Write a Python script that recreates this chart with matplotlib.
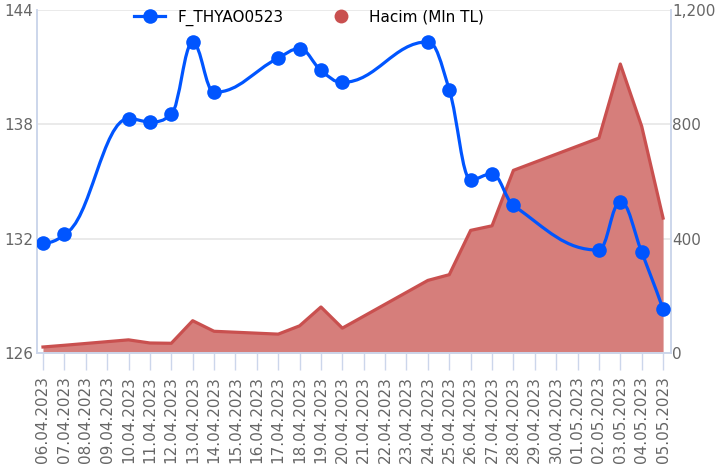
"""F_THYAO0523 price vs. traded volume (Hacim) chart."""

from datetime import datetime

import matplotlib
matplotlib.use("Agg")
import matplotlib.dates as mdates
import matplotlib.pyplot as plt
from matplotlib.lines import Line2D
from matplotlib.path import Path
from matplotlib.patches import PathPatch
from matplotlib.ticker import FuncFormatter

# trading days shown on the chart
trade_dates = [
    "06.04.2023", "07.04.2023", "10.04.2023", "11.04.2023", "12.04.2023",
    "13.04.2023", "14.04.2023", "17.04.2023", "18.04.2023", "19.04.2023",
    "20.04.2023", "24.04.2023", "25.04.2023", "26.04.2023", "27.04.2023",
    "28.04.2023", "02.05.2023", "03.05.2023", "04.05.2023", "05.05.2023",
]
price = [
    131.75, 132.25, 138.30, 138.13, 138.52,
    142.30, 139.68, 141.48, 141.97, 140.83,
    140.20, 142.33, 139.82, 135.10, 135.40,
    133.75, 131.40, 133.95, 131.30, 128.30,
]
volume_mln = [
    21, 27, 46, 35, 34,
    113, 76, 66, 95, 161,
    87, 254, 274, 429, 445,
    639, 752, 1011, 793, 472,
]
price_ticks = [126, 132, 138, 144]
volume_ticks = [0, 400, 800, 1200]
first_day, last_day = "06.04.2023", "05.05.2023"

BLUE = "#0055ff"
RED_LINE = "#c9504f"
RED_FILL = "#d67e7b"
AXIS_COL = "#ccd6eb"
GRID_COL = "#e6e6e6"
LABEL_COL = "#666666"


def to_num(day):
    return mdates.date2num(datetime.strptime(day, "%d.%m.%Y"))


def spline_path(xs, ys, smoothing=1.5):
    """Bezier path in data space, same control-point rule as a Highcharts spline."""
    denom = smoothing + 1
    n = len(xs)
    left = [(x, y) for x, y in zip(xs, ys)]
    right = [(x, y) for x, y in zip(xs, ys)]
    for i in range(1, n - 1):
        px, py = xs[i], ys[i]
        lx, ly, nx, ny = xs[i - 1], ys[i - 1], xs[i + 1], ys[i + 1]
        lcx = (smoothing * px + lx) / denom
        lcy = (smoothing * py + ly) / denom
        rcx = (smoothing * px + nx) / denom
        rcy = (smoothing * py + ny) / denom
        corr = 0.0
        if rcx != lcx:
            corr = (rcy - lcy) * (rcx - px) / (rcx - lcx) + py - rcy
        lcy += corr
        rcy += corr
        if lcy > ly and lcy > py:
            lcy = max(ly, py)
            rcy = 2 * py - lcy
        elif lcy < ly and lcy < py:
            lcy = min(ly, py)
            rcy = 2 * py - lcy
        if rcy > ny and rcy > py:
            rcy = max(ny, py)
            lcy = 2 * py - rcy
        elif rcy < ny and rcy < py:
            rcy = min(ny, py)
            lcy = 2 * py - rcy
        left[i] = (lcx, lcy)
        right[i] = (rcx, rcy)

    verts = [(xs[0], ys[0])]
    codes = [Path.MOVETO]
    for i in range(1, n):
        verts += [right[i - 1], left[i], (xs[i], ys[i])]
        codes += [Path.CURVE4] * 3
    return Path(verts, codes)


x = [to_num(d) for d in trade_dates]
x_start, x_end = to_num(first_day), to_num(last_day)

fig = plt.figure(figsize=(7.17, 4.72), dpi=100)
ax = fig.add_axes([37 / 717, 119 / 472, 634 / 717, 343 / 472])
ax2 = ax.twinx()

# volume area lives on the lower axes, price on top
ax.set_zorder(ax2.get_zorder() + 1)
ax.patch.set_visible(False)

ax2.fill_between(x, volume_mln, 0, color=RED_FILL, linewidth=0, zorder=2)
ax2.plot(x, volume_mln, color=RED_LINE, linewidth=2.3, solid_joinstyle="round", zorder=3)
ax2.set_ylim(0, 1200)
ax2.set_yticks(volume_ticks)
ax2.yaxis.set_major_formatter(FuncFormatter(lambda v, _: f"{v:,.0f}"))
ax2.grid(axis="y", color=GRID_COL, linewidth=1.2, zorder=0)
ax2.set_axisbelow(True)

ax.add_patch(PathPatch(spline_path(x, price), facecolor="none", edgecolor=BLUE,
                       linewidth=2.3, zorder=3))
ax.plot(x, price, linestyle="none", marker="o", markersize=10.5,
        color=BLUE, markeredgewidth=0, zorder=4)
ax.set_ylim(126, 144)
ax.set_yticks(price_ticks)
ax.set_xlim(x_start - 0.28, x_end + 0.37)

ax.xaxis.set_major_locator(mdates.DayLocator())
ax.xaxis.set_major_formatter(mdates.DateFormatter("%d.%m.%Y"))
ax.tick_params(axis="x", direction="out", length=12.5, width=1, color=AXIS_COL,
               labelrotation=90, labelsize=11, labelcolor=LABEL_COL, pad=4)
ax.tick_params(axis="y", length=0, labelsize=11, labelcolor=LABEL_COL, pad=3)
ax2.tick_params(axis="y", length=0, labelsize=11, labelcolor=LABEL_COL, pad=1)

for axis in (ax, ax2):
    axis.spines["top"].set_visible(False)
    for side in ("left", "right", "bottom"):
        axis.spines[side].set_color(AXIS_COL)
        axis.spines[side].set_linewidth(1.2)

handles = [
    Line2D([], [], color=BLUE, linewidth=2.3, marker="o", markersize=10.5,
           markeredgewidth=0),
    Line2D([], [], linestyle="none", color=RED_LINE, marker="o", markersize=10,
           markeredgewidth=0),
]
fig.legend(handles, ["F_THYAO0523", "Hacim (Mln TL)"], loc="center",
           bbox_to_anchor=(0.431, 0.962), ncol=2, frameon=False, fontsize=11,
           handlelength=2.0, handletextpad=0.8, columnspacing=2.8)

fig.savefig("out.png", dpi=100)
plt.close(fig)
